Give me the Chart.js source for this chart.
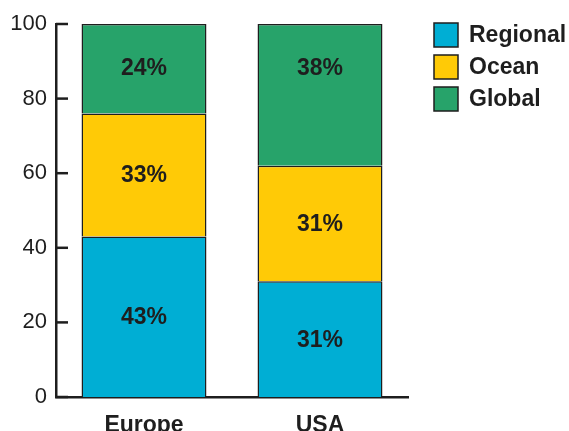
<!DOCTYPE html>
<html lang="en">
<head>
    <meta charset="UTF-8">
    <title>Regional / Ocean / Global share</title>
    <script src="https://cdn.jsdelivr.net/npm/chart.js@4/dist/chart.umd.min.js"></script>
    <style>
        html, body { margin: 0; padding: 0; background: #fff; }
        #wrap { width: 569px; height: 431px; }
    </style>
</head>
<body>
    <div id="wrap"><canvas id="chart"></canvas></div>
    <script>
        // Data
        const categories = ['Europe', 'USA'];
        const seriesNames = ['Regional', 'Ocean', 'Global'];
        const regional = [43, 31];
        const ocean = [33, 31];
        const global = [24, 38];
        const yTicks = [0, 20, 40, 60, 80, 100];

        const colors = ['#00aed4', '#ffca06', '#27a36a'];
        const ink = '#1e1e1e';
        const FONT = '"Liberation Sans", Arial, Helvetica, sans-serif';

        // bar value labels, inward y ticks, legend
        const decorations = {
            id: 'decorations',
            afterDatasetsDraw(chart) {
                const ctx = chart.ctx;
                const yScale = chart.scales.y;
                const area = chart.chartArea;
                const last = chart.data.datasets.length - 1;

                ctx.save();
                ctx.fillStyle = ink;
                ctx.font = 'bold 23px ' + FONT;
                ctx.textAlign = 'center';
                ctx.textBaseline = 'middle';
                chart.data.datasets.forEach((ds, di) => {
                    chart.getDatasetMeta(di).data.forEach((bar, i) => {
                        let y = (bar.y + bar.base) / 2;
                        // top segment labels sit near the top of the bar
                        if (di === last) y = Math.min(y, bar.y + 44);
                        ctx.fillText(ds.data[i] + '%', bar.x, y + 1);
                    });
                });

                // tick marks pointing into the plot
                ctx.strokeStyle = ink;
                ctx.lineWidth = 2.5;
                yTicks.forEach(v => {
                    const y = yScale.getPixelForValue(v);
                    ctx.beginPath();
                    ctx.moveTo(area.left, y);
                    ctx.lineTo(area.left + 12, y);
                    ctx.stroke();
                });

                // legend
                ctx.font = 'bold 23px ' + FONT;
                ctx.textAlign = 'left';
                chart.data.datasets.forEach((ds, di) => {
                    const top = 23 + di * 32;
                    ctx.fillStyle = ds.backgroundColor;
                    ctx.fillRect(434, top, 24, 24);
                    ctx.lineWidth = 1.5;
                    ctx.strokeRect(434, top, 24, 24);
                    ctx.fillStyle = ink;
                    ctx.fillText(ds.label, 469, top + 13);
                });
                ctx.restore();
            }
        };

        const seriesData = [regional, ocean, global];

        new Chart(document.getElementById('chart'), {
            type: 'bar',
            data: {
                labels: categories,
                datasets: seriesNames.map((name, i) => ({
                    label: name,
                    data: seriesData[i],
                    backgroundColor: colors[i],
                    borderColor: ink,
                    borderWidth: { top: 1.5, left: 1.5, right: 1.5, bottom: 0 },
                    borderSkipped: false,
                    barPercentage: 0.71,
                    categoryPercentage: 1
                }))
            },
            options: {
                responsive: true,
                maintainAspectRatio: false,
                animation: false,
                layout: { padding: { top: 24, right: 161, left: 0, bottom: 0 } },
                plugins: {
                    legend: { display: false },
                    tooltip: { enabled: false }
                },
                scales: {
                    x: {
                        stacked: true,
                        grid: { display: false, drawTicks: false },
                        border: { display: true, color: ink, width: 2.5 },
                        ticks: {
                            color: ink,
                            padding: 15,
                            font: { family: FONT, size: 23, weight: 'bold' }
                        },
                        afterFit(scale) { scale.height = 34; }
                    },
                    y: {
                        stacked: true,
                        min: 0,
                        max: 100,
                        grid: { display: false, drawTicks: false },
                        border: { display: true, color: ink, width: 2.5 },
                        afterBuildTicks(scale) {
                            scale.ticks = yTicks.map(v => ({ value: v }));
                        },
                        ticks: {
                            color: ink,
                            padding: 9,
                            font: { family: FONT, size: 22 }
                        },
                        afterFit(scale) { scale.width = 56; }
                    }
                }
            },
            plugins: [decorations]
        });
    </script>
</body>
</html>
